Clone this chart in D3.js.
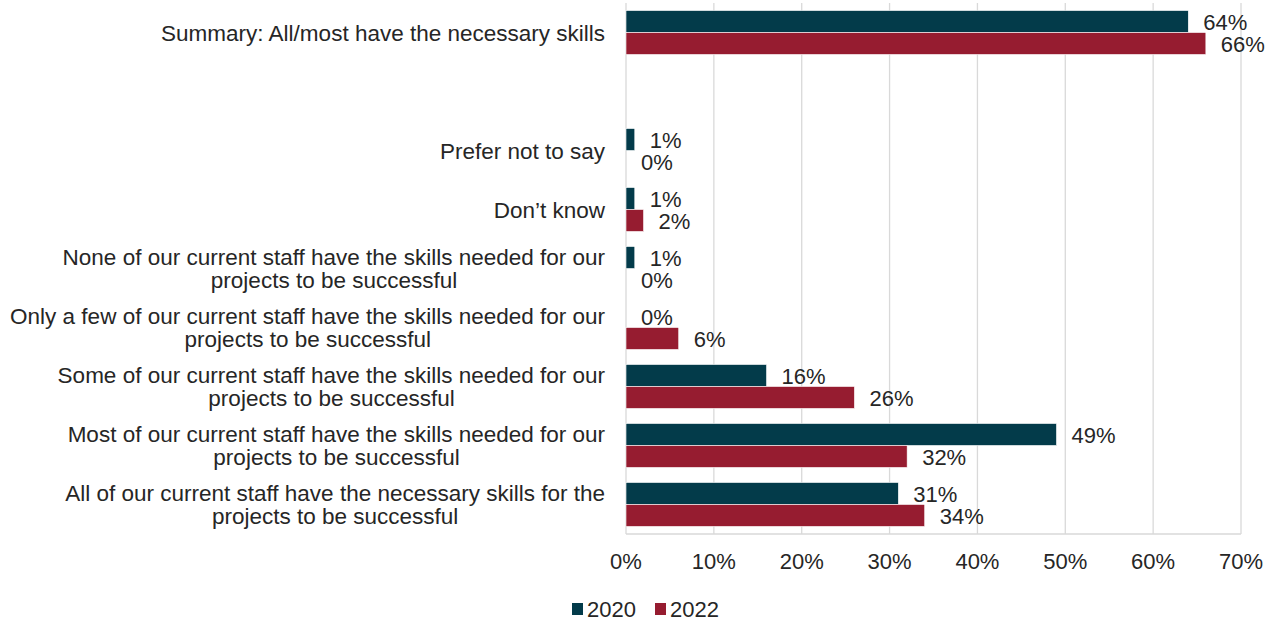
<!DOCTYPE html>
<html>
<head>
<meta charset="utf-8">
<script src="https://cdn.jsdelivr.net/npm/d3@7"></script>
<style>
  html, body { margin: 0; padding: 0; background: #ffffff; }
  svg text { font-family: "Liberation Sans", Arial, sans-serif; fill: #262626; }
</style>
</head>
<body>
<svg id="chart" width="1275" height="622"></svg>
<script>
// Category rows, top to bottom (empty string is a spacer row)
const categories = [
  ["Summary: All/most have the necessary skills"],
  [""],
  ["Prefer not to say"],
  ["Don’t know"],
  ["None of our current staff have the skills needed for our", "projects to be successful"],
  ["Only a few of our current staff have the skills needed for our", "projects to be successful"],
  ["Some of our current staff have the skills needed for our", "projects to be successful"],
  ["Most of our current staff have the skills needed for our", "projects to be successful"],
  ["All of our current staff have the necessary skills for the", "projects to be successful"]
];
const seriesNames = ["2020", "2022"];
const values2020 = [64, null, 1, 1, 1, 0, 16, 49, 31];
const values2022 = [66, null, 0, 2, 0, 6, 26, 32, 34];
const xTicks = [0, 10, 20, 30, 40, 50, 60, 70];
const colors = ["#033b4a", "#961c30"];

const svg = d3.select("#chart");
const plot = { left: 626, right: 1241, top: 3, bottom: 534 };
const fontSize = 22;
const catFontSize = 22.5;

const keys = categories.map((c, i) => i);
const x = d3.scaleLinear().domain([0, 70]).range([plot.left, plot.right]);
const y = d3.scaleBand().domain(keys).range([plot.top, plot.bottom]).paddingInner(0.255).paddingOuter(0.128);
const ySub = d3.scaleBand().domain(seriesNames).range([0, y.bandwidth()]);

// vertical gridlines
svg.append("g").selectAll("line").data(xTicks).join("line")
  .attr("x1", d => x(d)).attr("x2", d => x(d))
  .attr("y1", plot.top).attr("y2", plot.bottom)
  .attr("stroke", "#d9d9d9").attr("stroke-width", 1.3);

// bottom axis line
svg.append("line").attr("x1", plot.left).attr("x2", plot.right)
  .attr("y1", plot.bottom).attr("y2", plot.bottom)
  .attr("stroke", "#d9d9d9").attr("stroke-width", 1.3);

// x tick labels
svg.append("g").selectAll("text").data(xTicks).join("text")
  .attr("x", d => x(d)).attr("y", 569)
  .attr("text-anchor", "middle").attr("font-size", fontSize)
  .text(d => d + "%");

// category labels
const catG = svg.append("g");
categories.forEach((lines, i) => {
  const cy = y(i) + y.bandwidth() / 2;
  const lh = 23;
  const startY = cy - (lines.length - 1) * lh / 2 + 8;
  lines.forEach((ln, j) => {
    if (!ln) return;
    catG.append("text")
      .attr("x", j === 0 ? 605 : null)
      .attr("y", startY + j * lh)
      .attr("text-anchor", j === 0 ? "end" : "middle")
      .attr("font-size", catFontSize)
      .attr("data-line", j)
      .text(ln);
  });
});
// second lines are centred under the first line
catG.selectAll("text").each(function () {
  const t = d3.select(this);
  if (+t.attr("data-line") === 1) {
    const prev = this.previousSibling;
    const bb = prev.getBBox();
    t.attr("x", bb.x + bb.width / 2);
  }
});

// bars and value labels
const series = [values2020, values2022];
series.forEach((vals, s) => {
  const g = svg.append("g");
  vals.forEach((v, i) => {
    if (v === null) return;
    const by = y(i) + ySub(seriesNames[s]);
    if (v > 0) {
      g.append("rect")
        .attr("x", x(0)).attr("y", by)
        .attr("width", x(v) - x(0)).attr("height", ySub.bandwidth())
        .attr("fill", colors[s]).attr("stroke", "#ffffff").attr("stroke-width", 0.6);
    }
    g.append("text")
      .attr("x", x(v) + 15)
      .attr("y", by + ySub.bandwidth() / 2 + 8.5)
      .attr("font-size", fontSize)
      .text(v + "%");
  });
});

// legend
const legend = svg.append("g");
const legItems = [{x: 572, label: "2020"}, {x: 655, label: "2022"}];
legItems.forEach((d, i) => {
  legend.append("rect").attr("x", d.x).attr("y", 603).attr("width", 11).attr("height", 12).attr("fill", colors[i]);
  legend.append("text").attr("x", d.x + 15).attr("y", 617).attr("font-size", fontSize).text(d.label);
});
</script>
</body>
</html>
